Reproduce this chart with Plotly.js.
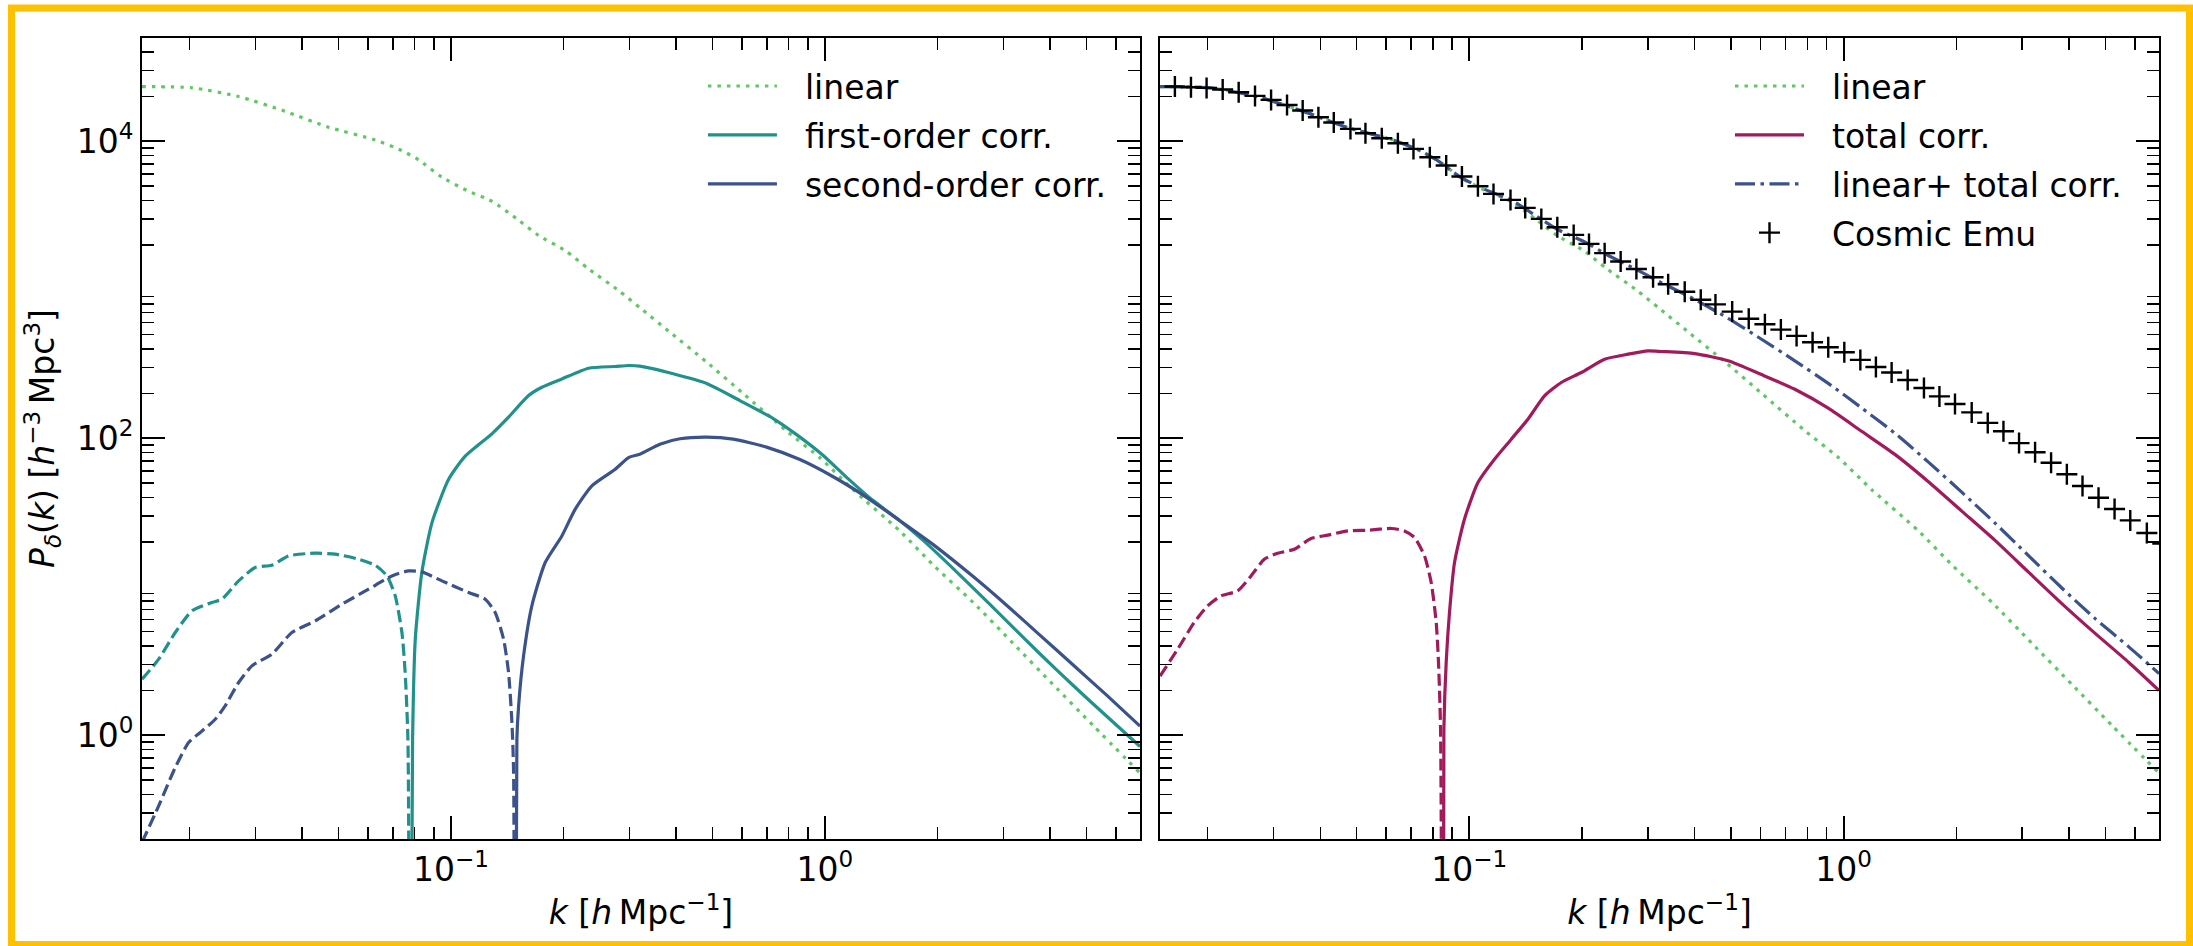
<!DOCTYPE html>
<html><head><meta charset="utf-8">
<script src="https://cdn.plot.ly/plotly-3.0.1.min.js"></script>
<style>html,body{margin:0;padding:0;background:#fff;} #chart{width:2193px;height:946px;}</style>
</head><body><div id="chart"></div>
<script>
// ---- data (k in h/Mpc, P in h^-3 Mpc^3) ----
const kLinear = [0.01493, 0.0203, 0.02706, 0.03606, 0.0471, 0.0627, 0.0739, 0.0820, 0.0946, 0.1103, 0.1287, 0.1501, 0.1716, 0.2021, 0.2334, 0.2808, 0.3207, 0.3851, 0.4829, 0.6045, 0.790, 0.970, 1.190, 1.587, 1.948, 2.492, 3.188, 4.077, 5.217, 6.96];
const pLinear = [23300, 22900, 20000, 15900, 12420, 10200, 8650, 7480, 5730, 4660, 3945, 3000, 2317, 1836, 1380, 988, 754, 518, 325.5, 200, 111.8, 73.8, 44.9, 23.7, 14.0, 7.83, 4.145, 2.19, 1.16, 0.556];

// first-order correction: positive part (solid) and |negative part| (dashed)
const kFirstPos = [0.0778, 0.07898, 0.0803, 0.0836, 0.0890, 0.0986, 0.1092, 0.1287, 0.1426, 0.1613, 0.1751, 0.1980, 0.2334, 0.2750, 0.2986, 0.320, 0.3929, 0.483, 0.5927, 0.7275, 0.840, 0.9896, 1.143, 1.346, 1.555, 1.831, 2.249, 2.762, 3.390, 4.165, 5.112, 6.96];
const pFirstPos = [0.001, 0.94, 4.43, 12.46, 27.0, 52.9, 75.7, 107, 138.5, 193.9, 220.5, 250.6, 296, 304, 308.8, 305.5, 271.5, 233.6, 179.1, 135.7, 105.7, 76.5, 54.5, 38.0, 29.0, 20.5, 12.6, 7.6, 4.55, 2.75, 1.70, 0.84];
const kFirstNeg = [0.01493, 0.01654, 0.01832, 0.0203, 0.02296, 0.02441, 0.02706, 0.02997, 0.0332, 0.03681, 0.04337, 0.04904, 0.05665, 0.06274, 0.06745, 0.07097, 0.07396, 0.07545, 0.07674, 0.0775];
const pFirstNeg = [2.38, 3.25, 4.915, 6.87, 7.83, 8.24, 10.94, 13.47, 13.96, 16.12, 16.81, 16.55, 15.32, 13.96, 11.82, 8.67, 4.915, 2.644, 0.94, 0.001];

// second-order correction
const kSecondPos = [0.1484, 0.1501, 0.1517, 0.1564, 0.1646, 0.1787, 0.1980, 0.2150, 0.2382, 0.275, 0.2986, 0.320, 0.362, 0.4096, 0.483, 0.5685, 0.698, 0.8574, 1.0525, 1.293, 1.587, 1.948, 2.492, 3.061, 3.757, 4.612, 5.666, 6.96];
const pSecondPos = [0.001, 0.94, 1.575, 3.42, 7.43, 14.55, 21.98, 33.3, 47.8, 61.8, 74.1, 78, 91.1, 99.1, 101.7, 98.5, 87.1, 71.8, 55.0, 40.0, 27.8, 19.2, 11.7, 7.5, 4.72, 2.97, 1.86, 1.15];
const kSecondNeg = [0.01493, 0.01654, 0.01832, 0.01989, 0.02137, 0.02344, 0.02491, 0.02706, 0.02937, 0.0332, 0.03757, 0.04337, 0.05112, 0.06024, 0.06955, 0.07705, 0.0836, 0.09461, 0.1115, 0.1235, 0.1313, 0.1383, 0.1426, 0.1456, 0.1471, 0.1478];
const pSecondNeg = [0.19, 0.334, 0.606, 0.893, 1.043, 1.281, 1.575, 2.264, 2.93, 3.51, 4.915, 5.885, 7.62, 9.62, 11.82, 12.78, 12.58, 10.94, 9.14, 8.24, 6.71, 4.43, 2.644, 1.218, 0.561, 0.001];

// total correction
const kTotalPos = [0.0851, 0.08557, 0.08679, 0.08858, 0.09135, 0.0971, 0.1055, 0.1168, 0.1295, 0.1435, 0.1589, 0.1762, 0.1993, 0.2300, 0.2657, 0.3004, 0.3263, 0.4003, 0.4917, 0.6036, 0.741, 0.910, 1.117, 1.371, 1.685, 2.068, 2.538, 3.118, 3.828, 4.698, 5.77, 6.96];
const pTotalPos = [0.001, 1.098, 3.09, 6.71, 14.55, 28.48, 50.3, 72.2, 98.5, 134.3, 192.7, 237.2, 277, 340.4, 367.9, 387.1, 383.6, 371.3, 332.5, 268.2, 213.5, 159.2, 111.3, 77.8, 50.9, 32.3, 20.5, 12.54, 7.7, 4.85, 3.1, 2.0];
const kTotalNeg = [0.01493, 0.01664, 0.01842, 0.02001, 0.02172, 0.02407, 0.02613, 0.02836, 0.03079, 0.03411, 0.03781, 0.04191, 0.04739, 0.05359, 0.0619, 0.06714, 0.07141, 0.07595, 0.07915, 0.08162, 0.08278, 0.08383, 0.0847];
const pTotalNeg = [2.5, 3.794, 5.74, 7.43, 8.67, 9.37, 11.82, 15.32, 16.81, 17.88, 21.12, 22.23, 23.76, 24.02, 24.66, 23.76, 21.45, 16.12, 10.67, 5.74, 3.09, 1.098, 0.001];

// linear + total correction
const kLinTot = [0.01493, 0.0203, 0.02706, 0.03606, 0.0471, 0.0627, 0.0739, 0.0820, 0.0946, 0.1103, 0.1287, 0.1501, 0.1716, 0.2021, 0.2334, 0.2808, 0.3207, 0.4003, 0.4917, 0.6036, 0.741, 0.910, 1.117, 1.371, 1.685, 2.068, 2.538, 3.118, 3.828, 4.698, 5.77, 6.96];
const pLinTot = [23300, 22880, 19990, 15880, 12390, 10170, 8620, 7460, 5740, 4720, 4050, 3170, 2554, 2116, 1720, 1360, 1138, 860, 642, 464, 332, 234, 160, 108, 69, 43.3, 26.8, 16.2, 9.8, 6.1, 3.95, 2.6];

// Cosmic Emu points
const kEmu = [0.01636, 0.01806, 0.01988, 0.02195, 0.02422, 0.02678, 0.02956, 0.03261, 0.0359, 0.03955, 0.04347, 0.04816, 0.05282, 0.0584, 0.06448, 0.07097, 0.07848, 0.08679, 0.09561, 0.1055, 0.1161, 0.1289, 0.1411, 0.1558, 0.1719, 0.1901, 0.2089, 0.2300, 0.2538, 0.2796, 0.3098, 0.3399, 0.3764, 0.4154, 0.4547, 0.5040, 0.558, 0.6163, 0.6799, 0.7489, 0.8263, 0.9100, 1.0044, 1.1085, 1.2199, 1.3437, 1.4831, 1.6393, 1.803, 1.984, 2.199, 2.427, 2.673, 2.942, 3.247, 3.583, 3.948, 4.347, 4.797, 5.294, 5.831, 6.457, 7.12];
const pEmu = [23350, 23100, 22860, 22300, 21380, 20190, 18970, 17550, 16100, 14510, 13360, 12100, 11320, 10470, 9695, 8875, 7806, 6862, 5784, 4977, 4417, 4025, 3555, 2998, 2636, 2339, 2034, 1762, 1549, 1380, 1214, 1089, 967.9, 855, 796, 712, 637.9, 585.6, 538.7, 488.6, 443.1, 409.4, 378.9, 336.8, 301.7, 277, 246.6, 217.8, 191.2, 169.9, 149.2, 126.8, 111.3, 92.7, 80.4, 68.3, 57.2, 47.7, 39.75, 33.4, 27.96, 23.0, 19.5];

// ticks
const xMajorVals = [0.1, 1];
const xMajorText = ['10<sup>\u22121</sup>', '10<sup>0</sup>'];
const yMajorVals = [1, 100, 10000];
const yMajorText = ['10<sup>0</sup>', '10<sup>2</sup>', '10<sup>4</sup>'];
const xMinorVals = [0.02,0.03,0.04,0.05,0.06,0.07,0.08,0.09,0.2,0.3,0.4,0.5,0.6,0.7,0.8,0.9,2,3,4,5,6];
const yMinorVals = [0.3,0.4,0.5,0.6,0.7,0.8,0.9,2,3,4,5,6,7,8,9,20,30,40,50,60,70,80,90,200,300,400,500,600,700,800,900,2000,3000,4000,5000,6000,7000,8000,9000,20000,30000,40000];

// ---- styling ----
const GREEN = '#5ec962', TEAL = '#21918c', NAVY = '#3b528b', CRIMSON = '#a11a5b';
const LW = 3.2;
const DOT = '3.5px,6px', DASH = '12px,5px', DASHDOT = '20px,5.5px,3.5px,5.5px';
const FONT = 'DejaVu Sans';

function line(x, y, color, dash, name, xa, ya, leg, group, show) {
  return {x: x, y: y, type: 'scatter', mode: 'lines', name: name,
    line: {color: color, width: LW, dash: dash, shape: 'spline', smoothing: 0.6}, xaxis: xa, yaxis: ya,
    legend: leg, legendgroup: group, showlegend: show, hoverinfo: 'skip'};
}

const data = [
  line(kLinear, pLinear, GREEN, DOT, 'linear', 'x', 'y', 'legend', 'a1', true),
  line(kFirstPos, pFirstPos, TEAL, 'solid', 'first-order corr.', 'x', 'y', 'legend', 'a2', true),
  line(kFirstNeg, pFirstNeg, TEAL, DASH, 'first-order corr. (neg)', 'x', 'y', 'legend', 'a2', false),
  line(kSecondPos, pSecondPos, NAVY, 'solid', 'second-order corr.', 'x', 'y', 'legend', 'a3', true),
  line(kSecondNeg, pSecondNeg, NAVY, DASH, 'second-order corr. (neg)', 'x', 'y', 'legend', 'a3', false),
  line(kLinear, pLinear, GREEN, DOT, 'linear', 'x2', 'y2', 'legend2', 'b1', true),
  line(kTotalPos, pTotalPos, CRIMSON, 'solid', 'total corr.', 'x2', 'y2', 'legend2', 'b2', true),
  line(kTotalNeg, pTotalNeg, CRIMSON, DASH, 'total corr. (neg)', 'x2', 'y2', 'legend2', 'b2', false),
  line(kLinTot, pLinTot, NAVY, DASHDOT, 'linear+ total corr.', 'x2', 'y2', 'legend2', 'b3', true),
  {x: kEmu, y: pEmu, type: 'scatter', mode: 'markers', name: 'Cosmic Emu',
   marker: {symbol: 'cross-thin', size: 15, color: 'black', line: {color: 'black', width: 2.4}},
   xaxis: 'x2', yaxis: 'y2', legend: 'legend2', legendgroup: 'b4', showlegend: true, hoverinfo: 'skip'}
];

const tickFont = {family: FONT, size: 33, color: 'black'};
function xAxis(domain, anchor) {
  return {type: 'log', range: [-1.826, 0.8425], domain: domain, anchor: anchor,
    showline: true, linecolor: 'black', linewidth: 2, mirror: 'allticks',
    ticks: 'inside', ticklen: 23, tickwidth: 1.8, tickcolor: 'black',
    tickmode: 'array', tickvals: xMajorVals, ticktext: xMajorText, tickfont: tickFont,
    minor: {tickmode: 'array', tickvals: xMinorVals, ticks: 'inside', ticklen: 12, tickwidth: 1.5, tickcolor: 'black', showgrid: false},
    showgrid: false, zeroline: false,
    title: {text: '<i>k</i> [<i>h</i>\u2009Mpc<sup>\u22121</sup>]', font: {family: FONT, size: 33, color: 'black'}, standoff: 13}};
}
function yAxis(anchor, labels) {
  return {type: 'log', range: [-0.699, 4.695], domain: [0, 1], anchor: anchor,
    showline: true, linecolor: 'black', linewidth: 2, mirror: 'allticks',
    ticks: 'inside', ticklen: 23, tickwidth: 1.8, tickcolor: 'black',
    tickmode: 'array', tickvals: yMajorVals, ticktext: yMajorText, tickfont: tickFont,
    showticklabels: labels,
    minor: {tickmode: 'array', tickvals: yMinorVals, ticks: 'inside', ticklen: 12, tickwidth: 1.5, tickcolor: 'black', showgrid: false},
    showgrid: false, zeroline: false};
}

const legendFont = {family: FONT, size: 33, color: 'black'};
const layout = {
  width: 2193, height: 946,
  margin: {l: 142, r: 34, t: 38, b: 107},
  paper_bgcolor: 'white', plot_bgcolor: 'white',
  font: {family: FONT, size: 33, color: 'black'},
  xaxis: xAxis([0, 0.49479], 'y'),
  xaxis2: xAxis([0.50471, 1], 'y2'),
  yaxis: Object.assign(yAxis('x', true), {title: {text: '<i>P</i><sub><i>\u03b4</i></sub>(<i>k</i>) [<i>h</i><sup>\u22123</sup>\u2009Mpc<sup>3</sup>]', font: {family: FONT, size: 33, color: 'black'}, standoff: 12}}),
  yaxis2: yAxis('x2', false),
  legend: {x: 0.2781, y: 0.975, xanchor: 'left', yanchor: 'top', bgcolor: 'rgba(0,0,0,0)', borderwidth: 0,
    font: legendFont, itemwidth: 92, traceorder: 'grouped', tracegroupgap: 3},
  legend2: {x: 0.7873, y: 0.975, xanchor: 'left', yanchor: 'top', bgcolor: 'rgba(0,0,0,0)', borderwidth: 0,
    font: legendFont, itemwidth: 92, traceorder: 'grouped', tracegroupgap: 3},
  shapes: [{type: 'rect', xref: 'paper', yref: 'paper', x0: -0.0647, x1: 1.01512, y0: -0.1317, y1: 1.03745,
    line: {color: '#FFC000', width: 7}, fillcolor: 'rgba(0,0,0,0)', layer: 'below'}],
  showlegend: true
};

const gd = document.getElementById('chart');
Plotly.newPlot(gd, data, layout, {staticPlot: true, displayModeBar: false}).then(function () {
  gd.querySelectorAll('.legendlines path').forEach(function (p) { p.setAttribute('d', 'M5,0h69'); });
  gd.querySelectorAll('.legendpoints path.scatterpts').forEach(function (p) {
    p.setAttribute('transform', 'translate(39.5,0)');
  });
});
</script></body></html>
